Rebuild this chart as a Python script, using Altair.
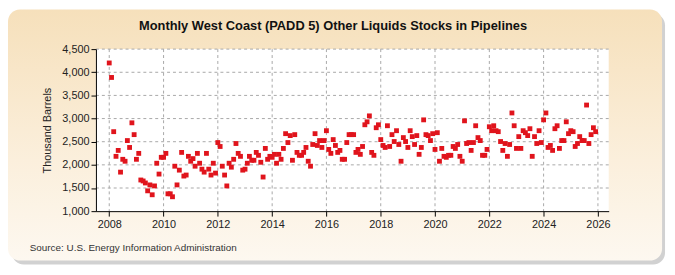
import altair as alt
import pandas as pd

# Monthly stocks, thousand barrels
v2008 = [4201, 3888, 2717, 2184, 2312, 1843, 2120, 2078, 2525, 2376, 2908, 2653]
v2009 = [2120, 2248, 1673, 1652, 1609, 1439, 1567, 1354, 1545, 2035, 1801, 2163]
v2010 = [2163, 2248, 1375, 1375, 1311, 1971, 1567, 1886, 2269, 1758, 1780, 2184]
v2011 = [2078, 2135, 1971, 2248, 2035, 1907, 1843, 2248, 1907, 1780, 2035, 1822]
v2012 = [2482, 2397, 1971, 1780, 1545, 2035, 1950, 2120, 2461, 2248, 2184, 1886]
v2013 = [1907, 2035, 2184, 2099, 2099, 2269, 2206, 2056, 1737, 2355, 2120, 2184]
v2014 = [2163, 2227, 2035, 2227, 2120, 2355, 2674, 2482, 2632, 2099, 2653, 2269]
v2015 = [2206, 2206, 2269, 2376, 2078, 1971, 2440, 2674, 2419, 2525, 2376, 2525]
v2016 = [2738, 2333, 2248, 2546, 2419, 2269, 2312, 2120, 2120, 2482, 2653, 2653]
v2017 = [2653, 2269, 2333, 2227, 2397, 2866, 2930, 3058, 2269, 2206, 2802, 2866]
v2018 = [2546, 2419, 2376, 2845, 2397, 2653, 2504, 2738, 2440, 2078, 2589, 2504]
v2019 = [2376, 2738, 2610, 2440, 2632, 2227, 2376, 2972, 2653, 2632, 2525, 2674]
v2020 = [2333, 2695, 2078, 2355, 2184, 2163, 2206, 2206, 2397, 2355, 2440, 2184]
v2021 = [2078, 2951, 2461, 2482, 2312, 2482, 2845, 2589, 2525, 2206, 2206, 2333]
v2022 = [2823, 2738, 2845, 2738, 2717, 2504, 2312, 2461, 2184, 2440, 3121, 2845]
v2023 = [2355, 2610, 2355, 2738, 2695, 2632, 2781, 2184, 2610, 2461, 2738, 2482]
v2024 = [2972, 3121, 2376, 2419, 2312, 2781, 2845, 2355, 2525, 2525, 2930, 2674]
v2025 = [2738, 2717, 2397, 2461, 2610, 2525, 2525, 3292, 2461, 2653, 2802, 2717]

stocks = (v2008 + v2009 + v2010 + v2011 + v2012 + v2013 + v2014 + v2015 + v2016
          + v2017 + v2018 + v2019 + v2020 + v2021 + v2022 + v2023 + v2024 + v2025)

year_ticks = [2008, 2010, 2012, 2014, 2016, 2018, 2020, 2022, 2024, 2026]
y_ticks = [1000, 1500, 2000, 2500, 3000, 3500, 4000, 4500]

TITLE = "Monthly West Coast (PADD 5) Other Liquids Stocks in Pipelines"
Y_TITLE = "Thousand Barrels"
SOURCE = "Source: U.S. Energy Information Administration"

months = pd.date_range("2008-01-01", periods=len(stocks), freq="MS").strftime("%Y-%m-%dT00:00:00").tolist()
df = pd.DataFrame({"date": months, "stocks": stocks})
xgrid_df = pd.DataFrame({"date": [f"{y}-01-01T00:00:00" for y in year_ticks]})
ygrid_df = pd.DataFrame({"stocks": y_ticks[1:]})
dummy = pd.DataFrame({"k": [0]})

W, H = 519, 164
FONT = "Liberation Sans"

x_scale = alt.Scale(domain=[alt.DateTime(year=2007, month=7, date=6),
                            alt.DateTime(year=2026, month=5, date=26)])
y_scale = alt.Scale(domain=[1000, 4500], nice=False, zero=False)

x_axis = alt.Axis(values=[alt.DateTime(year=y, month=1, date=1) for y in year_ticks],
                  format="%Y", grid=False, domainColor="black", tickColor="black",
                  tickSize=5, labelFont=FONT, labelFontSize=11, labelColor="#222",
                  labelPadding=3, zindex=1)
y_axis = alt.Axis(values=y_ticks, format=",.0f", grid=False, domainColor="black",
                  tickColor="black", tickSize=5, labelFont=FONT, labelFontSize=11,
                  labelColor="#222", titleFont=FONT, titleFontSize=11,
                  titleFontWeight="normal", titleColor="#222", titlePadding=9, zindex=1)

base = alt.Chart(dummy)

shadow = base.mark_rect(cornerRadius=12, fill="#bdbdbd", opacity=0.7).encode(
    x=alt.value(-85), x2=alt.value(W + 57), y=alt.value(-36), y2=alt.value(H + 54))

panel = base.mark_rect(
    cornerRadius=12,
    fill=alt.LinearGradient(
        gradient="linear", x1=0, y1=0, x2=0, y2=1,
        stops=[alt.GradientStop(color="#f6e0bb", offset=0),
               alt.GradientStop(color="#fbefdc", offset=0.6),
               alt.GradientStop(color="#fdf8f0", offset=1)])
).encode(x=alt.value(-89), x2=alt.value(W + 54), y=alt.value(-40), y2=alt.value(H + 50))

plot_bg = base.mark_rect(fill="white").encode(
    x=alt.value(0), x2=alt.value(W), y=alt.value(0), y2=alt.value(H))

points = alt.Chart(df).mark_square(size=24, color="#e0141c", opacity=1).encode(
    x=alt.X("date:T", scale=x_scale, axis=x_axis, title=None),
    y=alt.Y("stocks:Q", scale=y_scale, axis=y_axis, title=Y_TITLE))

xgrid = alt.Chart(xgrid_df).mark_rule(color="#a8a8a8", strokeDash=[3, 3], strokeWidth=1).encode(
    x=alt.X("date:T", scale=x_scale, axis=x_axis, title=None))
ygrid = alt.Chart(ygrid_df).mark_rule(color="#a8a8a8", strokeDash=[3, 3], strokeWidth=1).encode(
    y=alt.Y("stocks:Q", scale=y_scale, axis=y_axis, title=Y_TITLE))

title = base.mark_text(align="center", baseline="middle", font=FONT, fontSize=13,
                       fontWeight="bold", color="#111").encode(
    x=alt.value(240), y=alt.value(-23), text=alt.value(TITLE))

source = base.mark_text(align="left", baseline="middle", font=FONT, fontSize=10,
                        color="#333").encode(
    x=alt.value(-67), y=alt.value(H + 37), text=alt.value(SOURCE))

chart = alt.layer(shadow, panel, plot_bg, xgrid, ygrid, points, title, source).properties(
    width=W, height=H,
    padding={"left": 89, "top": 40, "right": 59, "bottom": 63},
    autosize=alt.AutoSizeParams(type="none"),
    background="white",
).configure_view(stroke=None)

chart.save("out.html", embed_options={"renderer": "svg", "actions": False})
